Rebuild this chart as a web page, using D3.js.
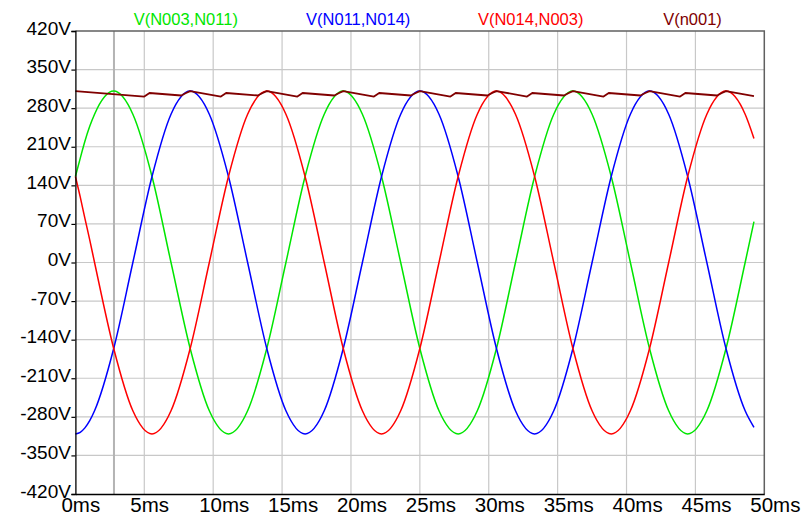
<!DOCTYPE html>
<html>
<head>
<meta charset="utf-8">
<script src="https://cdn.jsdelivr.net/npm/d3@7"></script>
<style>
  html, body { margin: 0; padding: 0; background: #ffffff; }
  svg { display: block; }
  text { font-family: "Liberation Sans", Arial, sans-serif; }
</style>
</head>
<body>
<svg id="chart" width="803" height="516"></svg>
<script>
// Sample times (ms) for the three line-to-line voltages
const timeMs = [0, 0.35, 0.69, 1.04, 1.39, 2.78, 4.17, 5.56, 6.94, 8.33, 9.72, 11.11, 12.5, 13.89, 15.28,
  16.67, 18.06, 19.44, 20.83, 22.22, 23.61, 25, 26.39, 27.78, 29.17, 30.56, 31.94,
  33.33, 34.72, 36.11, 37.5, 38.89, 40.28, 41.67, 43.06, 44.44, 45.83, 47.22, 48.61, 49.25];

// V(N003,N011)
const vN003N011 = [156, 189, 220, 247, 269, 311, 269, 156, 0, -156, -269, -311, -269, -156, 0,
  156, 269, 311, 269, 156, 0, -156, -269, -311, -269, -156, 0,
  156, 269, 311, 269, 156, 0, -156, -269, -311, -269, -156, 0, 74];

// V(N011,N014)
const vN011N014 = [-311, -308, -300, -287, -269, -156, 0, 156, 269, 311, 269, 156, 0, -156, -269,
  -311, -269, -156, 0, 156, 269, 311, 269, 156, 0, -156, -269,
  -311, -269, -156, 0, 156, 269, 311, 269, 156, 0, -156, -269, -299];

// V(N014,N003)
const vN014N003 = [156, 119, 80, 41, 0, -156, -269, -311, -269, -156, 0, 156, 269, 311, 269,
  156, 0, -156, -269, -311, -269, -156, 0, 156, 269, 311, 269,
  156, 0, -156, -269, -311, -269, -156, 0, 156, 269, 311, 269, 225];

// V(n001): rectified output with ripple
const n001Time = [0, 5.0, 5.38, 7.68, 8.03, 8.33,
  10.56, 10.94, 13.24, 13.59, 13.89,
  16.11, 16.49, 18.79, 19.14, 19.44,
  21.67, 22.05, 24.35, 24.70, 25.0,
  27.22, 27.60, 29.90, 30.25, 30.56,
  32.78, 33.16, 35.46, 35.81, 36.11,
  38.33, 38.71, 41.01, 41.36, 41.67,
  43.89, 44.27, 46.57, 46.92, 47.22,
  49.25];
const vN001 = [311, 301, 307.5, 303, 307.5, 311,
  301, 307.5, 303, 307.5, 311,
  301, 307.5, 303, 307.5, 311,
  301, 307.5, 303, 307.5, 311,
  301, 307.5, 303, 307.5, 311,
  301, 307.5, 303, 307.5, 311,
  301, 307.5, 303, 307.5, 311,
  301, 307.5, 303, 307.5, 311,
  302];

const xTicks = [0, 5, 10, 15, 20, 25, 30, 35, 40, 45, 50];
const yTicks = [-420, -350, -280, -210, -140, -70, 0, 70, 140, 210, 280, 350, 420];
const cursorMs = 2.8;

const traceNames = ["V(N003,N011)", "V(N011,N014)", "V(N014,N003)", "V(n001)"];
const traceColors = ["#00e600", "#0000ff", "#ff0000", "#800000"];

const svg = d3.select("#chart");
const plotLeft = 75.4, plotRight = 764.3, plotTop = 31, plotBottom = 494;

const x = d3.scaleLinear().domain([0, 50]).range([plotLeft, plotRight]);
const y = d3.scaleLinear().domain([-420, 420]).range([plotBottom, plotTop]);

// grid
const grid = svg.append("g");
grid.selectAll("line.v").data(xTicks.slice(1, -1)).join("line")
  .attr("class", "v")
  .attr("x1", d => x(d)).attr("x2", d => x(d))
  .attr("y1", plotTop).attr("y2", plotBottom)
  .attr("stroke", "#c8c8c8").attr("stroke-width", 1.2);
grid.selectAll("line.h").data(yTicks.slice(1, -1)).join("line")
  .attr("class", "h")
  .attr("x1", plotLeft).attr("x2", plotRight)
  .attr("y1", d => y(d)).attr("y2", d => y(d))
  .attr("stroke", "#c8c8c8").attr("stroke-width", 1.2);

// cursor line
svg.append("line")
  .attr("x1", x(cursorMs)).attr("x2", x(cursorMs))
  .attr("y1", plotTop).attr("y2", plotBottom)
  .attr("stroke", "#b4b4b4").attr("stroke-width", 2);

// frame: top and right
svg.append("path")
  .attr("d", `M${plotLeft},${plotTop}H${plotRight}V${plotBottom}`)
  .attr("fill", "none").attr("stroke", "#606060").attr("stroke-width", 1.5);

// traces (every crest and trough is a sample, so a monotone cubic keeps them flat)
const line = d3.line().curve(d3.curveMonotoneX);
const series = [
  { t: timeMs, v: vN003N011, c: traceColors[0], w: 1.5 },
  { t: timeMs, v: vN011N014, c: traceColors[1], w: 1.5 },
  { t: timeMs, v: vN014N003, c: traceColors[2], w: 1.5 },
];
series.forEach(s => {
  svg.append("path")
    .attr("d", line(s.t.map((t, i) => [x(t), y(s.v[i])])))
    .attr("fill", "none").attr("stroke", s.c).attr("stroke-width", s.w)
    .attr("stroke-linejoin", "round");
});
svg.append("path")
  .attr("d", d3.line()(n001Time.map((t, i) => [x(t), y(vN001[i])])))
  .attr("fill", "none").attr("stroke", traceColors[3]).attr("stroke-width", 1.8)
  .attr("stroke-linejoin", "round");

// axes
const yAxis = svg.append("g").attr("transform", `translate(${plotLeft},0)`)
  .call(d3.axisLeft(y).tickValues(yTicks).tickFormat(d => d + "V").tickSize(4).tickPadding(0.5));
yAxis.select(".domain").attr("stroke", "#000").attr("stroke-width", 1.3);
yAxis.selectAll(".tick line").attr("stroke", "#000").attr("stroke-width", 1.2);
yAxis.selectAll(".tick text")
  .attr("font-size", 19).attr("fill", "#000").attr("dy", "3px")
  .attr("font-family", "'Liberation Sans', Arial, sans-serif");

const xAxis = svg.append("g").attr("transform", `translate(0,${plotBottom})`)
  .call(d3.axisBottom(x).tickValues(xTicks).tickFormat(d => d + "ms").tickSize(0).tickPadding(0));
xAxis.select(".domain").attr("stroke", "#000").attr("stroke-width", 1.3);
xAxis.selectAll(".tick text")
  .attr("font-size", 20.5).attr("fill", "#000")
  .attr("text-anchor", "start").attr("x", -14.5).attr("dy", "17.5px")
  .attr("font-family", "'Liberation Sans', Arial, sans-serif");

// trace labels
const labelX = [185.8, 358.2, 530.7, 692.5];
svg.selectAll("text.trace").data(traceNames).join("text")
  .attr("class", "trace")
  .attr("x", (d, i) => labelX[i]).attr("y", 25)
  .attr("text-anchor", "middle")
  .attr("font-size", 16.5)
  .attr("fill", (d, i) => traceColors[i])
  .text(d => d);
</script>
</body>
</html>
